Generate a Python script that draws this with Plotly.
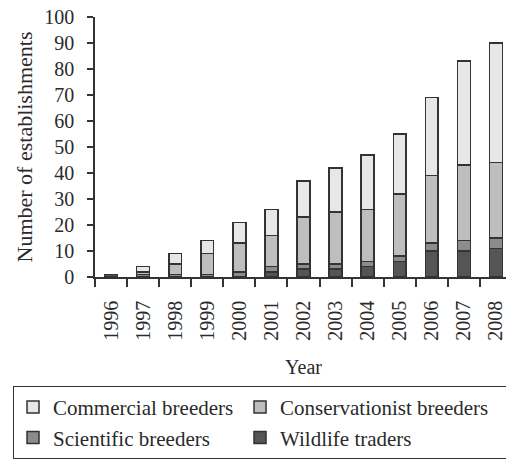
import plotly.graph_objects as go

years = ["1996", "1997", "1998", "1999", "2000", "2001", "2002", "2003", "2004", "2005", "2006", "2007", "2008"]
wildlife_traders = [1, 0, 0, 0, 0, 2, 3, 3, 4, 6, 10, 10, 11]
scientific_breeders = [0, 1, 1, 1, 2, 2, 2, 2, 2, 2, 3, 4, 4]
conservationist_breeders = [0, 1, 4, 8, 11, 12, 18, 20, 20, 24, 26, 29, 29]
commercial_breeders = [0, 2, 4, 5, 8, 10, 14, 17, 21, 23, 30, 40, 46]

# (name, values, colour, legend column group, legend rank, legend entry width)
series = [
    ("Wildlife traders", wildlife_traders, "#555557", "col2", 4, 221),
    ("Scientific breeders", scientific_breeders, "#8b8c8e", "col1", 2, 182),
    ("Conservationist breeders", conservationist_breeders, "#bdbec1", "col2", 3, 221),
    ("Commercial breeders", commercial_breeders, "#e6e7e9", "col1", 1, 182),
]

FONT = "Liberation Serif, Times New Roman, serif"
INK = "#2a2a2a"

fig = go.Figure()
for name, vals, color, grp, rank, lw in series:
    fig.add_trace(go.Bar(
        x=years, y=vals, name=name,
        legendgroup=grp, legendrank=rank, legendwidth=lw,
        marker=dict(color=color, line=dict(color="#333333", width=1.5)),
        width=0.4,
    ))

# page has an 8px body margin, so the figure is 8px smaller than the window
fig.update_layout(
    barmode="stack",
    width=506, height=454,
    margin=dict(l=87, r=2, t=9, b=185),
    paper_bgcolor="white", plot_bgcolor="white",
    font=dict(family=FONT, size=20, color=INK),
    showlegend=True,
    legend=dict(
        orientation="h",
        traceorder="grouped",
        x=-0.1966, xanchor="left",
        y=-0.419, yanchor="top",
        entrywidthmode="pixels",
        bordercolor="#333333", borderwidth=1,
        font=dict(family=FONT, size=21, color=INK),
        itemwidth=30,
        tracegroupgap=0,
        groupclick="toggleitem",
    ),
    xaxis=dict(
        type="category", automargin=False,
        showline=True, linecolor="#333333", linewidth=1.5,
        ticks="outside", tickson="boundaries", ticklen=8, tickwidth=1.5, tickcolor="#333333",
        tickangle=-90,
        ticklabelstandoff=14,
        tickfont=dict(family=FONT, size=20, color=INK),
        title=dict(text="Year", font=dict(family=FONT, size=20, color=INK), standoff=20),
        showgrid=False,
    ),
    yaxis=dict(
        range=[0, 100], dtick=10, automargin=False,
        showline=True, linecolor="#333333", linewidth=1.5,
        ticks="outside", ticklen=6, tickwidth=1.5, tickcolor="#333333",
        ticklabelstandoff=9,
        ticklabeloverflow="allow",
        tickfont=dict(family=FONT, size=20, color=INK),
        title=dict(text="Number of establishments", font=dict(family=FONT, size=22, color=INK), standoff=6),
        showgrid=False, zeroline=False,
    ),
)

fig.write_html("out.html")
